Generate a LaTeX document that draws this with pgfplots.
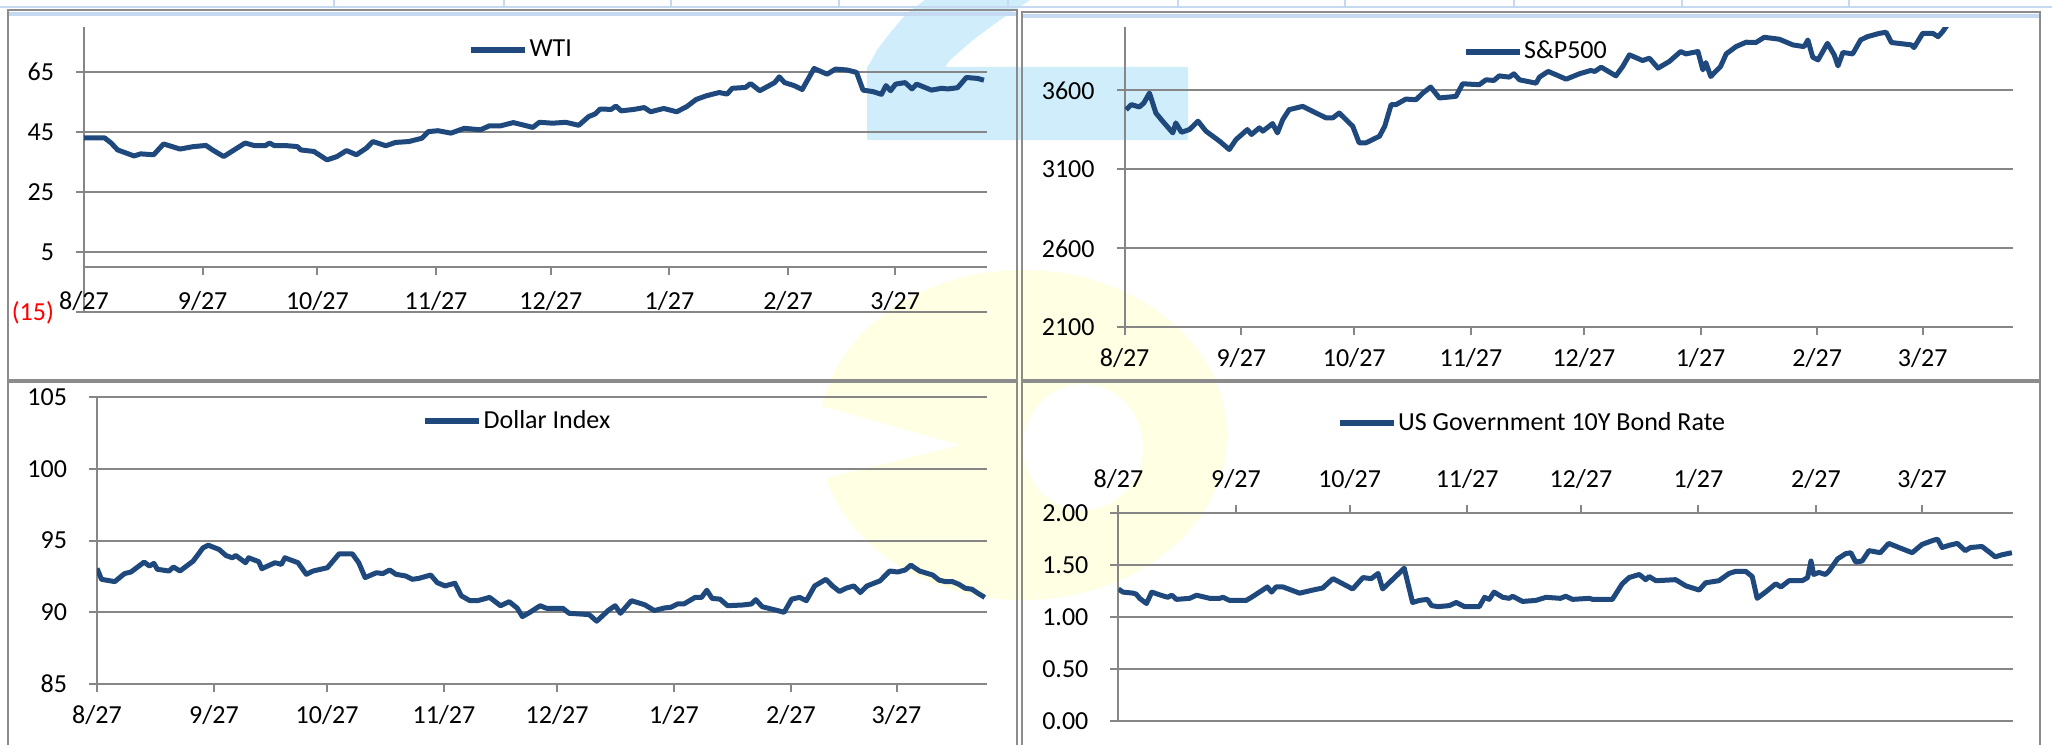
\documentclass[border=0pt]{standalone}
\usepackage{fontspec}
\setmainfont{Carlito}
\usepackage{pgfplots}
\pgfplotsset{compat=1.18}
\definecolor{lineblue}{RGB}{31,73,125}
\definecolor{gridgray}{RGB}{134,134,134}
\definecolor{framegray}{RGB}{140,140,140}
\definecolor{wmblue}{RGB}{207,237,250}
\definecolor{wmyellow}{RGB}{255,255,228}
\definecolor{tblblue}{RGB}{197,217,241}
\newcommand{\lblfont}{\fontsize{13bp}{15bp}\selectfont}
\pgfplotsset{
  panel/.style={
    scale only axis,
    anchor=south west,
    axis line style={gridgray, line width=1bp},
    every tick/.style={gridgray, line width=1bp},
    major tick length=4bp,
    tick align=outside,
    ymajorgrids,
    major grid style={gridgray, line width=1bp},
    tick label style={font=\lblfont, text=black},
    yticklabel style={xshift=-7.5bp},
    xtick={0,31,61,92,122,153,184,212},
    xticklabels={8/27,9/27,10/27,11/27,12/27,1/27,2/27,3/27},
    hide obscured x ticks=false,
    xmin=0, xmax=236,
    legend style={draw=none, fill=none, font=\lblfont, inner sep=0pt, outer sep=0pt, anchor=west,
      nodes={inner sep=0.8bp}},
    legend image code/.code={\draw[#1, line width=3bp] (0bp,0bp) -- (27bp,0bp);},
  },
  ser/.style={lineblue, line width=2.5bp, line join=round, no marks},
}
\begin{document}
\begin{tikzpicture}[x=1bp,y=1bp]
\useasboundingbox (0,0) rectangle (1026,372);
% watermark
\fill[wmblue] (433.5,302) -- (433.5,338.5) -- (435,340.5) -- (438.5,347) -- (445,355.5) -- (453.5,365.5) -- (462.5,372) -- (515,372) -- (500,362) -- (486.5,352) -- (475,342) -- (472.5,338.5) -- (594,338.5) -- (594,302) -- cycle;
\fill[wmyellow, even odd rule] (511.5,154.5) ellipse [x radius=102, y radius=82.5] (541.5,148.5) ellipse [x radius=30, y radius=31.5];
\fill[white] (409,169.5) -- (480,149.5) -- (409,132) -- cycle;
% top strip
\draw[tblblue, line width=1.2bp] (0,368.5) -- (1026,368.5);
\foreach \x in {334,504,671,839,1008,1178,1345,1514,1682,1849} \draw[tblblue, line width=0.8bp] (\x/2,372) -- (\x/2,368.5);
% frames
\fill[tblblue] (4.5,363.8) rectangle (508,366.2);
\fill[tblblue] (511.5,362.8) rectangle (1019.5,365.2);
\draw[framegray, line width=1bp] (4,182) rectangle (508.5,367);
\draw[framegray, line width=1bp] (511,182) rectangle (1020,366);
\draw[framegray, line width=1bp] (4,-2) rectangle (508.5,181);
\draw[framegray, line width=1bp] (511,-2) rectangle (1020,181);

% ---------- WTI ----------
\begin{axis}[panel, at={(42bp,215.85bp)}, width=451.5bp, height=142.8bp,
  ymin=-15, ymax=80, ytick={5,25,45,65}, yticklabels={5,25,45,65},
  extra y ticks={-15}, extra y tick labels={\textcolor{red}{(15)}},
  extra y tick style={grid=major},
  axis x line*=middle, axis y line*=left,
  xticklabel style={yshift=-4.7bp},
  legend style={at={(0.4252,0.919)}}]
\addplot[ser] coordinates {(0,43.0) (5.4,43.0) (7.1,41.3) (8.8,39.0) (13.1,37.0) (14.8,37.7) (18.2,37.4) (20.8,41.0) (25.1,39.3) (28.5,40.1) (31.9,40.5) (33.6,39.0) (36.5,36.8) (39.6,39.3) (42.1,41.3) (44.7,40.4) (47.3,40.4) (48.5,41.3) (49.8,40.4) (53.2,40.4) (55.8,40.1) (56.7,39.0) (60.1,38.5) (63.5,35.7) (66.1,36.8) (68.6,38.8) (71.2,37.4) (73.8,39.6) (75.5,41.8) (78.9,40.4) (81.4,41.5) (84.9,41.8) (88.3,42.9) (90.0,45.1) (92.5,45.4) (95.9,44.6) (99.4,46.2) (103.6,45.7) (105.9,47.0) (108.8,47.0) (112.2,48.1) (114.8,47.3) (117.3,46.5) (119.0,48.2) (122.5,47.9) (125.9,48.2) (129.3,47.2) (131.9,50.1) (133.6,51.0) (134.9,52.6) (137.8,52.5) (139.0,53.6) (140.4,52.0) (143.8,52.5) (146.4,53.1) (148.1,51.7) (151.5,52.8) (154.9,51.7) (157.5,53.4) (160.0,55.8) (162.6,57.0) (166.0,58.1) (168.1,57.6) (169.4,59.5) (172.9,59.8) (174.2,61.1) (176.6,58.7) (180.5,61.4) (181.7,63.3) (183.1,61.4) (185.6,60.4) (187.7,59.1) (190.8,66.1) (194.2,64.2) (196.4,65.9) (199.4,65.6) (201.9,64.8) (203.6,58.9) (206.2,58.4) (208.4,57.5) (209.6,60.4) (210.8,58.7) (212.1,60.9) (214.6,61.4) (216.4,59.3) (217.6,60.9) (221.5,58.9) (224.1,59.5) (225.8,59.3) (228.3,59.7) (230.6,63.1) (233.5,62.8) (235.2,62.2)};
\addlegendentry{WTI}
\end{axis}

% ---------- S&P500 ----------
\begin{axis}[panel, at={(562.3bp,208.3bp)}, width=444.2bp, height=150.1bp,
  ymin=2100, ymax=4000, ytick={2100,2600,3100,3600}, yticklabels={2100,2600,3100,3600},
  axis x line*=bottom, axis y line*=left,
  xticklabel style={yshift=-3bp},
  legend style={at={(0.3804,0.919)}}]
\addplot[ser] coordinates {(0.4,3478) (1.8,3510) (3.9,3495) (5.1,3520) (6.6,3583) (8.3,3457) (10.1,3405) (12.8,3331) (13.6,3394) (15.1,3335) (17.2,3352) (19.5,3405) (21.6,3342) (25.2,3279) (27.8,3226) (29.6,3289) (32.6,3352) (33.7,3321) (35.8,3363) (36.7,3342) (39.3,3390) (40.6,3331) (42.0,3415) (43.7,3478) (47.3,3499) (49.9,3468) (53.5,3426) (55.3,3426) (57.0,3457) (60.6,3373) (62.3,3268) (64.1,3268) (67.7,3310) (69.1,3373) (70.8,3510) (72.1,3510) (74.7,3545) (77.4,3541) (79.2,3583) (81.3,3621) (83.6,3552) (88.0,3562) (89.8,3642) (94.2,3636) (96.0,3667) (98.1,3663) (99.5,3692) (102.2,3684) (103.4,3705) (104.9,3667) (109.3,3646) (110.2,3684) (112.5,3720) (114.6,3699) (117.3,3671) (120.8,3705) (123.8,3726) (124.9,3720) (126.6,3747) (130.5,3692) (132.3,3751) (134.1,3825) (137.6,3789) (139.4,3804) (141.7,3741) (144.7,3783) (147.7,3846) (149.1,3831) (152.3,3846) (153.6,3730) (154.4,3776) (155.7,3688) (158.3,3751) (159.8,3831) (162.4,3877) (165.1,3905) (167.7,3903) (169.9,3936) (173.9,3924) (177.5,3888) (180.5,3877) (181.5,3919) (182.8,3810) (184.2,3793) (186.7,3898) (188.5,3825) (189.5,3755) (190.8,3840) (193.4,3831) (195.5,3919) (197.3,3940) (200.5,3961) (202.3,3968) (203.7,3903) (209.0,3888) (209.7,3871) (212.0,3961) (214.7,3961) (216.1,3940) (217.3,3972) (218.2,4003) (221,4078) (223,4080) (225,4129) (229,4142) (230,4124) (232,4185) (235,4163) (236,4135)};
\addlegendentry{S\&P500}
\end{axis}

% ---------- Dollar Index ----------
\begin{axis}[panel, at={(48.5bp,30bp)}, width=445bp, height=143.4bp,
  ymin=85, ymax=105, ytick={85,90,95,100,105}, yticklabels={85,90,95,100,105},
  axis x line*=bottom, axis y line*=left,
  xticklabel style={yshift=-3bp},
  legend style={at={(0.3652,0.916)}}]
\addplot[ser] coordinates {(0,93.06) (1.2,92.30) (4.7,92.14) (7.3,92.70) (9.0,92.81) (12.5,93.50) (13.9,93.23) (15.1,93.41) (16.0,93.0) (19.1,92.88) (20.3,93.16) (22.0,92.88) (25.5,93.57) (28.1,94.49) (29.5,94.68) (32.4,94.38) (34.2,93.96) (35.9,93.80) (36.8,93.96) (39.4,93.46) (40.2,93.80) (42.9,93.53) (43.7,93.04) (47.2,93.46) (48.9,93.34) (49.8,93.80) (53.3,93.46) (55.5,92.65) (57.3,92.88) (61.1,93.11) (64.2,94.08) (67.7,94.08) (69.4,93.46) (71.1,92.42) (74.1,92.76) (75.8,92.70) (77.6,92.95) (79.3,92.65) (81.9,92.53) (83.6,92.30) (85.4,92.37) (88.5,92.60) (90.2,92.07) (92.3,91.84) (94.9,92.03) (96.6,91.15) (98.9,90.81) (100.9,90.81) (104.1,91.04) (107.0,90.46) (109.3,90.74) (111.4,90.30) (112.8,89.70) (114.8,90.00) (117.5,90.46) (119.2,90.28) (123.5,90.28) (125.2,89.93) (130.5,89.84) (132.5,89.38) (135.7,90.16) (137.4,90.46) (138.8,89.93) (140.0,90.30) (141.7,90.81) (145.2,90.53) (147.8,90.12) (150.4,90.30) (152.2,90.35) (153.9,90.58) (155.6,90.58) (158.6,91.04) (160.3,91.04) (161.7,91.54) (163.1,90.97) (165.2,90.92) (167.2,90.46) (171.2,90.51) (173.5,90.58) (174.7,90.88) (176.4,90.39) (179.9,90.16) (182.2,90.00) (184.2,90.92) (186.3,91.04) (188.1,90.81) (190.3,91.84) (193.3,92.30) (195.0,91.84) (196.9,91.45) (198.6,91.68) (200.7,91.84) (202.4,91.38) (204.2,91.84) (207.6,92.19) (210.2,92.88) (212.3,92.81) (214.3,92.95) (215.8,93.29) (218.1,92.88) (221.6,92.60) (223.3,92.24) (225.0,92.14) (226.8,92.14) (228.5,91.96) (230.2,91.68) (232.0,91.61) (233.7,91.31) (235.4,91.04)};
\addlegendentry{Dollar Index}
\end{axis}

% ---------- US 10Y ----------
\begin{axis}[panel, at={(559.2bp,11.65bp)}, width=447.3bp, height=103.7bp,
  ymin=0, ymax=2, ytick={0,0.5,1,1.5,2}, yticklabels={0.00,0.50,1.00,1.50,2.00},
  axis x line*=top, axis y line*=left,
  xticklabel style={yshift=5bp},
  legend style={at={(0.2438,1.437)}}]
\addplot[ser] coordinates {(0,1.27) (1.2,1.24) (3.9,1.23) (4.7,1.22) (5.6,1.18) (7.4,1.13) (8.8,1.24) (11.2,1.21) (13.0,1.19) (14.1,1.21) (15.3,1.17) (18.8,1.18) (20.6,1.21) (24.1,1.18) (26.7,1.18) (27.6,1.19) (29.3,1.16) (33.7,1.16) (35.1,1.19) (39.3,1.29) (40.4,1.24) (41.6,1.29) (43.4,1.29) (47.8,1.23) (51.3,1.26) (53.9,1.28) (56.6,1.37) (59.2,1.32) (61.8,1.27) (64.5,1.38) (66.7,1.37) (68.5,1.42) (69.7,1.27) (75.4,1.47) (77.6,1.14) (79.4,1.16) (81.5,1.17) (82.6,1.11) (84.3,1.10) (87.3,1.11) (89.1,1.14) (91.3,1.10) (95.2,1.10) (96.6,1.19) (97.8,1.17) (99.1,1.24) (101.4,1.19) (103.1,1.18) (104.0,1.20) (106.6,1.15) (110.1,1.16) (112.8,1.19) (116.6,1.18) (118.0,1.20) (119.8,1.17) (124.2,1.18) (125.1,1.17) (130.3,1.17) (132.9,1.32) (134.7,1.38) (137.4,1.41) (139.1,1.36) (140.0,1.39) (141.8,1.35) (147.0,1.36) (149.7,1.30) (153.2,1.26) (154.9,1.33) (158.4,1.35) (161.1,1.42) (162.8,1.44) (165.5,1.44) (167.2,1.39) (168.5,1.18) (170.7,1.24) (173.4,1.32) (174.8,1.29) (176.9,1.35) (180.4,1.35) (181.8,1.38) (182.7,1.54) (183.4,1.41) (184.8,1.43) (186.5,1.41) (187.4,1.44) (189.7,1.56) (191.8,1.61) (193.2,1.62) (194.5,1.53) (196.2,1.54) (198.0,1.64) (201.0,1.62) (203.2,1.71) (205.9,1.67) (209.4,1.62) (212.0,1.70) (215.0,1.74) (216.1,1.75) (217.3,1.67) (219.0,1.69) (221.3,1.71) (223.4,1.64) (224.8,1.67) (227.8,1.68) (229.6,1.63) (231.3,1.58) (233.1,1.60) (235.7,1.62)};
\addlegendentry{US Government 10Y Bond Rate}
\end{axis}
\end{tikzpicture}
\end{document}
